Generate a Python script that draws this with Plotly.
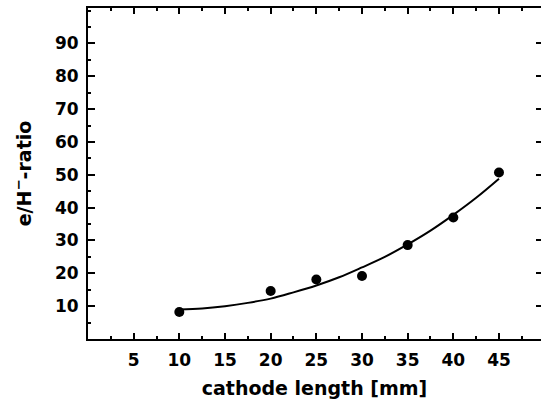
import plotly.graph_objects as go

# measured data points
length_mm = [10, 20, 25, 30, 35, 40, 45]
ratio = [8.2, 14.6, 18.1, 19.2, 28.6, 37.0, 50.7]

# fitted curve
curve_x = [10, 12.5, 15, 17.5, 20, 22.5, 25, 27.5, 30, 32.5, 35, 37.5, 40, 42.5, 45]
curve_y = [9.0, 9.3, 10.0, 11.0, 12.3, 14.2, 16.3, 18.8, 21.8, 25.0, 28.8, 33.0, 37.8, 43.0, 48.8]

x_ticks = [5, 10, 15, 20, 25, 30, 35, 40, 45]
y_ticks = [10, 20, 30, 40, 50, 60, 70, 80, 90]

FONT = "DejaVu Sans"
X_RANGE = [0, 49.6]
Y_RANGE = [0, 100.8]

fig = go.Figure()
fig.add_trace(go.Scatter(x=curve_x, y=curve_y, mode="lines", line=dict(color="black", width=2, shape="spline"),
                         showlegend=False, hoverinfo="skip"))
fig.add_trace(go.Scatter(x=length_mm, y=ratio, mode="markers", marker=dict(color="black", size=10),
                         showlegend=False))
# invisible trace for right-side ticks
fig.add_trace(go.Scatter(x=[None], y=[None], yaxis="y2", showlegend=False))

fig.update_layout(
    width=541, height=410,
    margin=dict(l=88, r=0, t=8, b=71),
    paper_bgcolor="white", plot_bgcolor="white",
    font=dict(family=FONT, size=16, color="black", weight="bold"),
    xaxis=dict(
        range=X_RANGE, tickvals=x_ticks, showgrid=False, zeroline=False,
        showline=True, linecolor="black", linewidth=2, mirror="ticks",
        ticks="inside", ticklen=6, tickwidth=2, tickcolor="black",
        minor=dict(dtick=2.5, tick0=0, ticks="inside", ticklen=3, tickwidth=2, tickcolor="black"),
        title=dict(text="cathode length [mm]", font=dict(size=19, weight="bold"), standoff=12),
        tickfont=dict(size=17, weight="bold"),
        ticklabelstandoff=5,
    ),
    yaxis=dict(
        range=Y_RANGE, tickvals=y_ticks, showgrid=False, zeroline=False,
        showline=True, linecolor="black", linewidth=2, mirror=False,
        ticks="inside", ticklen=7, tickwidth=2, tickcolor="black",
        minor=dict(dtick=5, tick0=0, ticks="inside", ticklen=3, tickwidth=2, tickcolor="black"),
        title=dict(text="e/H<sup>\u2212</sup>-ratio", font=dict(size=19, weight="bold"), standoff=18),
        tickfont=dict(size=17, weight="bold"),
        ticklabelstandoff=4,
    ),
    yaxis2=dict(
        range=Y_RANGE, overlaying="y", side="right", tickvals=y_ticks, showgrid=False,
        zeroline=False, showline=False, showticklabels=False,
        ticks="inside", ticklen=5, tickwidth=2, tickcolor="black",
    ),
)

fig.write_html("out.html")
